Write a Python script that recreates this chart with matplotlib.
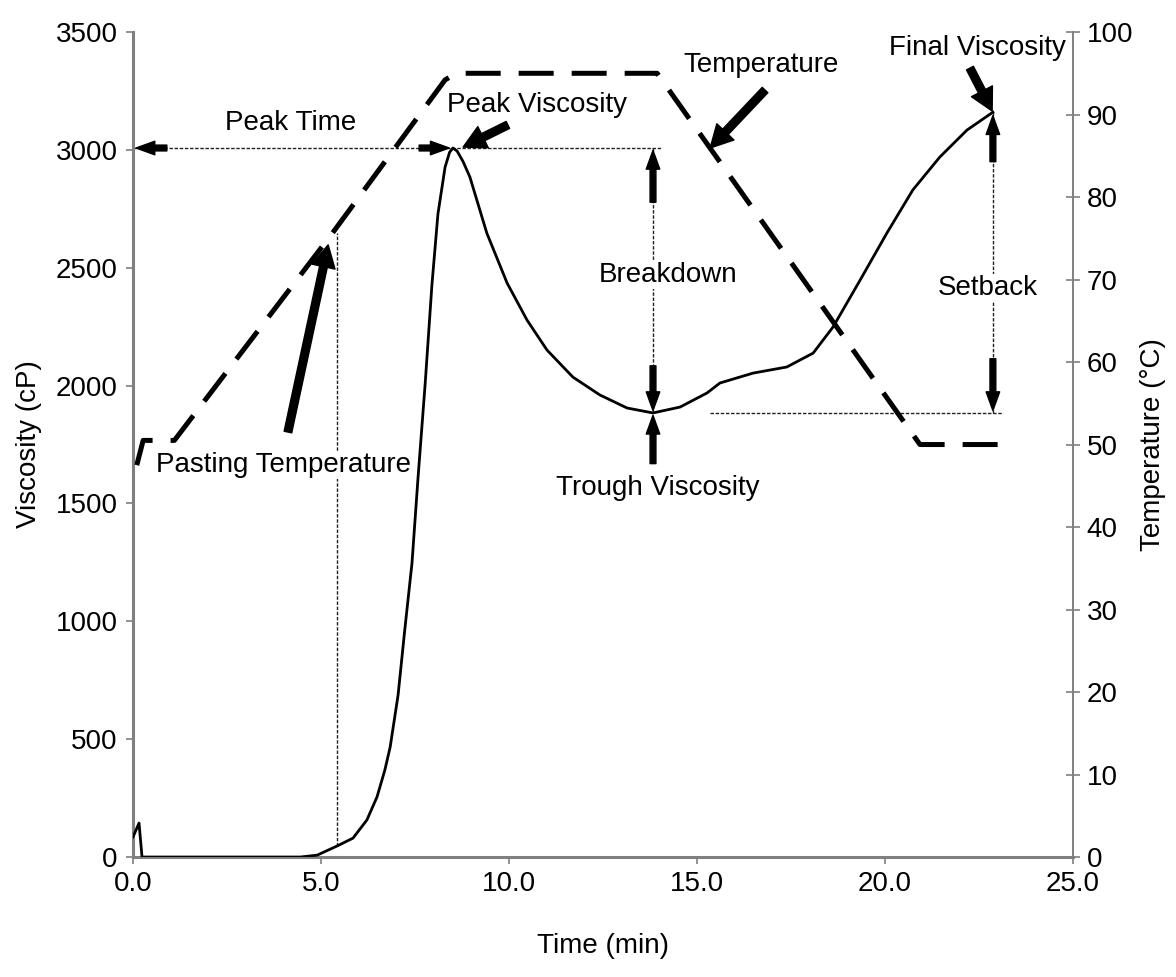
import matplotlib.pyplot as plt

# 字体设置
plt.rcParams['font.family'] = ['Liberation Sans', 'DejaVu Sans']
plt.rcParams['font.size'] = 20

# 粘度曲线 (min, cP)
visc_time = [0.0, 0.16, 0.24, 0.35, 1.0, 2.0, 3.0, 4.0, 4.45, 4.9, 5.43, 5.85,
             6.22, 6.49, 6.7, 6.84, 7.05, 7.23, 7.42, 7.58, 7.77, 7.95, 8.11,
             8.30, 8.42, 8.51, 8.62, 8.78, 8.96, 9.41, 9.95, 10.48, 11.01, 11.70,
             12.42, 13.14, 13.83, 14.55, 15.27, 15.61, 16.49, 17.39, 18.09,
             18.62, 19.34, 20.05, 20.74, 21.46, 22.18, 22.87]
visc = [85, 144, 0, 0, 0, 0, 0, 0, 0, 8, 47, 80,
        157, 255, 370, 467, 687, 967, 1247, 1608, 2007, 2427, 2728,
        2927, 2990, 3008, 2995, 2950, 2885, 2647, 2435, 2278, 2151, 2036,
        1960, 1905, 1884, 1909, 1969, 2011, 2053, 2079, 2138,
        2249, 2448, 2647, 2830, 2970, 3084, 3160]

# 温度曲线 (min, °C)
temp_time = [0.1, 0.27, 1.1, 5.3, 8.3, 8.6, 13.94, 20.93, 23.0]
temp = [47.5, 50.5, 50.5, 75.6, 94.2, 95, 95, 50, 50]

# 关键点
peak_t, peak_v = 8.51, 3008
trough_t, trough_v = 13.83, 1884
final_t, final_v = 22.87, 3160
pasting_t, pasting_v = 5.43, 47
pasting_top = 2647

x_ticks = [0, 5, 10, 15, 20, 25]
x_ticklabels = ['0.0', '5.0', '10.0', '15.0', '20.0', '25.0']
y_ticks = [0, 500, 1000, 1500, 2000, 2500, 3000, 3500]
t_ticks = [0, 10, 20, 30, 40, 50, 60, 70, 80, 90, 100]

GRAY = '#7f7f7f'
THIN = dict(color='#222222', lw=1.0, linestyle=(0, (2.5, 1.2)))
HEAD = dict(arrowstyle='simple,head_length=0.9,head_width=0.65,tail_width=0.28',
            mutation_scale=15, color='black', shrinkA=0, shrinkB=0)
BIG = dict(arrowstyle='simple,head_length=0.8,head_width=0.85,tail_width=0.28',
           mutation_scale=20, color='black', shrinkA=0, shrinkB=0)


def render():
    fig = plt.figure(figsize=(11.76, 9.77), dpi=100)
    ax = fig.add_axes([0.1131, 0.1228, 0.7993, 0.8444])
    ax2 = ax.twinx()

    ax.plot(visc_time, visc, color='black', lw=2.0, zorder=3)
    ax2.plot(temp_time, temp, color='black', lw=3.6, linestyle=(0, (7, 3.6)),
             dash_capstyle='butt', zorder=3)

    ax.set_xlim(0, 25)
    ax.set_ylim(0, 3500)
    ax2.set_ylim(0, 100)

    # 参考线
    ax.plot([0, trough_t + 0.23], [peak_v, peak_v], **THIN)
    ax.plot([15.35, 23.14], [trough_v, trough_v], **THIN)
    ax.plot([pasting_t, pasting_t], [pasting_v, pasting_top], **THIN)
    ax.plot([trough_t, trough_t], [peak_v, trough_v], **THIN)
    ax.plot([final_t, final_t], [final_v, trough_v], **THIN)

    # 尺寸箭头
    ax.annotate('', xy=(0.08, peak_v), xytext=(0.9, peak_v), arrowprops=HEAD)
    ax.annotate('', xy=(peak_t - 0.1, peak_v), xytext=(peak_t - 0.9, peak_v), arrowprops=HEAD)
    ax.annotate('', xy=(trough_t, peak_v - 10), xytext=(trough_t, peak_v - 230), arrowprops=HEAD)
    ax.annotate('', xy=(trough_t, trough_v + 10), xytext=(trough_t, trough_v + 200), arrowprops=HEAD)
    ax.annotate('', xy=(trough_t, trough_v - 10), xytext=(trough_t, trough_v - 215), arrowprops=HEAD)
    ax.annotate('', xy=(final_t, final_v - 15), xytext=(final_t, final_v - 210), arrowprops=HEAD)
    ax.annotate('', xy=(final_t, trough_v + 10), xytext=(final_t, trough_v + 230), arrowprops=HEAD)

    # 标签箭头
    ax.annotate('', xy=(5.19, 2597), xytext=(4.12, 1803), arrowprops=BIG)
    ax.annotate('', xy=(8.78, 3012), xytext=(9.97, 3106), arrowprops=BIG)
    ax.annotate('', xy=(15.35, 3008), xytext=(16.81, 3254), arrowprops=BIG)
    ax.annotate('', xy=(22.85, 3165), xytext=(22.26, 3347), arrowprops=BIG)

    # 文字
    bg = dict(facecolor='white', edgecolor='none', pad=1)
    ax.text(4.2, 3114, 'Peak Time', ha='center', va='center')
    ax.text(10.74, 3190, 'Peak Viscosity', ha='center', va='center')
    ax.text(16.7, 3360, 'Temperature', ha='center', va='center')
    ax.text(22.45, 3432, 'Final Viscosity', ha='center', va='center')
    ax.text(14.23, 2469, 'Breakdown', ha='center', va='center', bbox=bg, zorder=5)
    ax.text(22.74, 2414, 'Setback', ha='center', va='center', bbox=bg, zorder=5)
    ax.text(13.96, 1566, 'Trough Viscosity', ha='center', va='center')
    ax.text(3.99, 1663, 'Pasting Temperature', ha='center', va='center', bbox=bg, zorder=5)

    # 坐标轴
    ax.set_xticks(x_ticks)
    ax.set_xticklabels(x_ticklabels)
    ax.set_yticks(y_ticks)
    ax2.set_yticks(t_ticks)
    ax.set_xlabel('Time (min)', labelpad=26)
    ax.set_ylabel('Viscosity (cP)', labelpad=10)
    ax2.set_ylabel('Temperature (°C)', labelpad=5)

    for a in (ax, ax2):
        a.spines['top'].set_visible(False)
    ax.spines['left'].set_color(GRAY)
    ax.spines['left'].set_linewidth(2.2)
    ax.spines['bottom'].set_color(GRAY)
    ax.spines['bottom'].set_linewidth(2.2)
    ax.spines['right'].set_visible(False)
    ax2.spines['left'].set_visible(False)
    ax2.spines['bottom'].set_visible(False)
    ax2.spines['right'].set_color(GRAY)
    ax2.spines['right'].set_linewidth(1.4)

    ax.tick_params(axis='both', direction='out', length=5, width=1.2, color=GRAY, pad=5)
    ax.tick_params(axis='y', pad=6)
    ax2.tick_params(axis='y', direction='inout', length=10, width=1.2, color=GRAY, pad=5)

    fig.savefig('out.png', dpi=100)
    plt.close(fig)


if __name__ == '__main__':
    render()
